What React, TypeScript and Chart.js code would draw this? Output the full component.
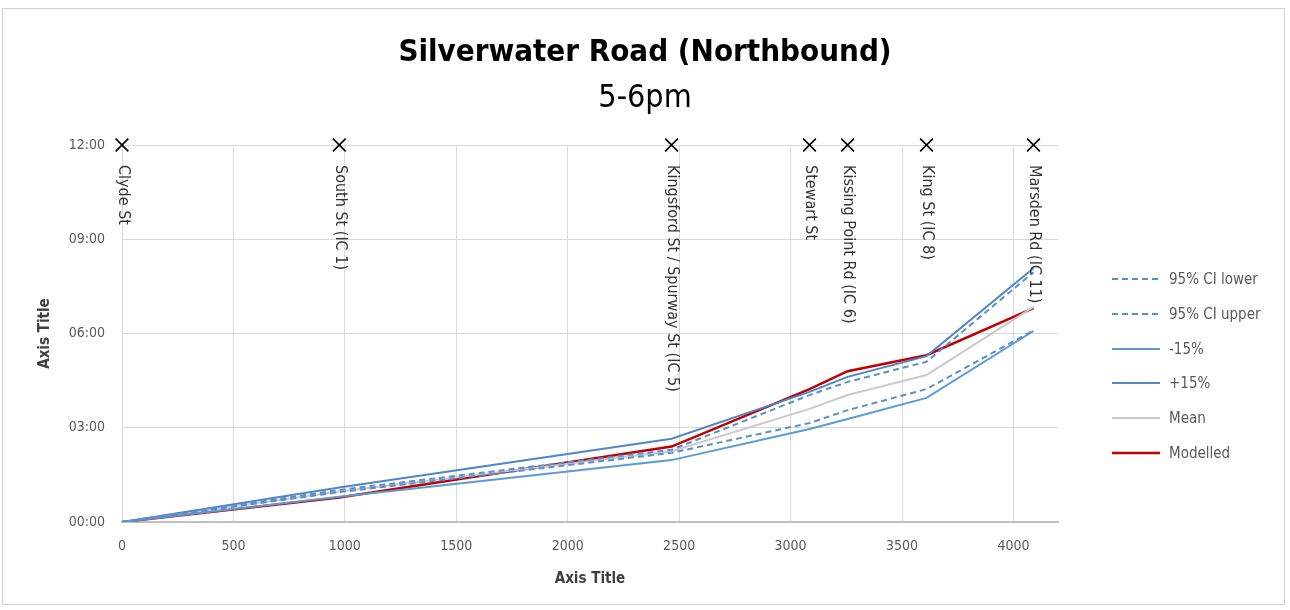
import React, { useEffect, useRef } from "react";
import { Chart, registerables } from "chart.js";

Chart.register(...registerables);

const locationNames = [
  "Clyde St",
  "South St (IC 1)",
  "Kingsford St / Spurway St (IC 5)",
  "Stewart St",
  "Kissing Point Rd (IC 6)",
  "King St (IC 8)",
  "Marsden Rd (IC 11)",
];
const distances = [0, 975, 2466, 3085, 3256, 3610, 4090];
const markerLevel = 12;

const ciLower = [0, 0.95, 2.2, 3.15, 3.56, 4.23, 6.1];
const ciUpper = [0, 1.02, 2.3, 4.04, 4.46, 5.1, 7.95];
const minus15 = [0, 0.8, 1.97, 2.96, 3.28, 3.95, 6.08];
const plus15 = [0, 1.1, 2.65, 4.14, 4.62, 5.28, 8.08];
const meanTimes = [0, 0.97, 2.25, 3.6, 4.04, 4.68, 6.85];
const modelled = [0, 0.78, 2.4, 4.23, 4.8, 5.31, 6.81];

const FONT = "'Liberation Sans Narrow', 'DejaVu Sans Condensed', Lato, sans-serif";

const seriesDefs = [
  { label: "95% CI lower", data: ciLower, color: "#5b8fc9", dash: [6, 4], width: 2 },
  { label: "95% CI upper", data: ciUpper, color: "#5b8fc9", dash: [6, 4], width: 2 },
  { label: "-15%", data: minus15, color: "#5b9bd5", dash: [], width: 2 },
  { label: "+15%", data: plus15, color: "#4f86c6", dash: [], width: 2 },
  { label: "Mean", data: meanTimes, color: "#c9c9c9", dash: [], width: 2 },
  { label: "Modelled", data: modelled, color: "#c00000", dash: [], width: 2.5 },
];

const pad2 = (n: number) => String(n).padStart(2, "0");
const fmtTime = (v: number) => {
  const total = Math.round(v * 60);
  return pad2(Math.floor(total / 60)) + ":" + pad2(total % 60);
};
const onStep = (v: number) => Math.abs(v / 500 - Math.round(v / 500)) < 1e-6;

const locationLabelPlugin = {
  id: "locationLabels",
  afterDatasetsDraw(chart: any) {
    const { ctx, scales } = chart;
    const xs = scales.x;
    const ys = scales.y;
    ctx.save();
    ctx.fillStyle = "#333333";
    ctx.font = `16px ${FONT}`;
    ctx.textAlign = "left";
    ctx.textBaseline = "middle";
    distances.forEach((d, i) => {
      const px = xs.getPixelForValue(d);
      const py = ys.getPixelForValue(markerLevel) + 20;
      ctx.save();
      ctx.translate(px + 1, py);
      ctx.rotate(Math.PI / 2);
      ctx.fillText(locationNames[i], 0, 0);
      ctx.restore();
    });
    ctx.restore();
  },
};

export default function App() {
  const canvasRef = useRef<HTMLCanvasElement | null>(null);

  useEffect(() => {
    document.body.style.margin = "0";
    const canvas = canvasRef.current;
    if (!canvas) return;
    const datasets: any[] = seriesDefs.map((s) => ({
      label: s.label,
      data: distances.map((d, i) => ({ x: d, y: s.data[i] })),
      borderColor: s.color,
      backgroundColor: s.color,
      borderDash: s.dash,
      borderWidth: s.width,
      showLine: true,
      pointRadius: 0,
      tension: 0,
      fill: false,
    }));
    datasets.push({
      label: "Locations",
      data: distances.map((d) => ({ x: d, y: markerLevel })),
      showLine: false,
      pointStyle: "crossRot",
      pointRadius: 9,
      borderColor: "#000000",
      backgroundColor: "#000000",
      pointBorderWidth: 1.6,
      clip: false,
    });

    const chart = new Chart(canvas, {
      type: "scatter",
      data: { datasets },
      plugins: [locationLabelPlugin],
      options: {
        animation: false,
        responsive: false,
        devicePixelRatio: 1,
        layout: { padding: { top: 145, right: 232, bottom: 0, left: 0 } },
        plugins: {
          legend: { display: false },
          tooltip: { enabled: false },
          title: { display: false },
        },
        scales: {
          x: {
            type: "linear",
            min: 0,
            max: 4200,
            afterFit: (scale: any) => {
              scale.height = 88;
            },
            ticks: {
              stepSize: 100,
              autoSkip: false,
              maxRotation: 0,
              color: "#595959",
              font: { family: FONT, size: 14 },
              padding: 16,
              callback: (v: any) => (onStep(Number(v)) ? String(v) : ""),
            },
            grid: {
              color: (ctx: any) => (ctx.tick && onStep(ctx.tick.value) ? "#d9d9d9" : "rgba(0,0,0,0)"),
              lineWidth: 1,
              drawTicks: false,
            },
            border: { color: "#bfbfbf", width: 2 },
            title: {
              display: true,
              text: "Axis Title",
              color: "#404040",
              font: { family: FONT, size: 15, weight: "bold" },
              padding: { top: 0, bottom: 22 },
            },
          },
          y: {
            type: "linear",
            min: 0,
            max: 12,
            afterFit: (scale: any) => {
              scale.width = 122;
            },
            ticks: {
              stepSize: 3,
              color: "#595959",
              font: { family: FONT, size: 14 },
              padding: 17,
              callback: (v: any) => fmtTime(Number(v)),
            },
            grid: { color: "#d9d9d9", lineWidth: 1, drawTicks: false },
            border: { display: false },
            title: {
              display: true,
              text: "Axis Title",
              color: "#404040",
              font: { family: FONT, size: 15, weight: "bold" },
              padding: { top: 36, bottom: 0 },
            },
          },
        },
      },
    });
    return () => chart.destroy();
  }, []);

  const legendTop = 279;
  const legendStep = 34.8;

  return (
    <div style={{ position: "relative", width: 1290, height: 610, background: "#ffffff", fontFamily: FONT }}>
      <div
        style={{
          position: "absolute",
          left: 2,
          top: 8,
          width: 1283,
          height: 597,
          border: "1px solid #d0d0d0",
          boxSizing: "border-box",
        }}
      />
      <canvas ref={canvasRef} width={1290} height={610} style={{ position: "absolute", left: 0, top: 0 }} />
      <div
        style={{
          position: "absolute",
          left: 0,
          width: 1290,
          top: 30,
          textAlign: "center",
          fontSize: 31,
          fontWeight: "bold",
          color: "#000000",
          lineHeight: "40px",
        }}
      >
        Silverwater Road (Northbound)
      </div>
      <div
        style={{
          position: "absolute",
          left: 0,
          width: 1290,
          top: 76,
          textAlign: "center",
          fontSize: 32,
          color: "#000000",
          lineHeight: "40px",
        }}
      >
        5-6pm
      </div>
      {seriesDefs.map((s, i) => (
        <div
          key={s.label}
          style={{
            position: "absolute",
            left: 1112,
            top: legendTop + i * legendStep - 10,
            height: 20,
            display: "flex",
            alignItems: "center",
            fontSize: 15,
            color: "#595959",
            whiteSpace: "nowrap",
          }}
        >
          <svg width={48} height={6} style={{ marginRight: 9 }}>
            <line
              x1={0}
              y1={3}
              x2={48}
              y2={3}
              stroke={s.color}
              strokeWidth={s.width}
              strokeDasharray={s.dash.length ? s.dash.join(",") : undefined}
            />
          </svg>
          <span>{s.label}</span>
        </div>
      ))}
    </div>
  );
}
